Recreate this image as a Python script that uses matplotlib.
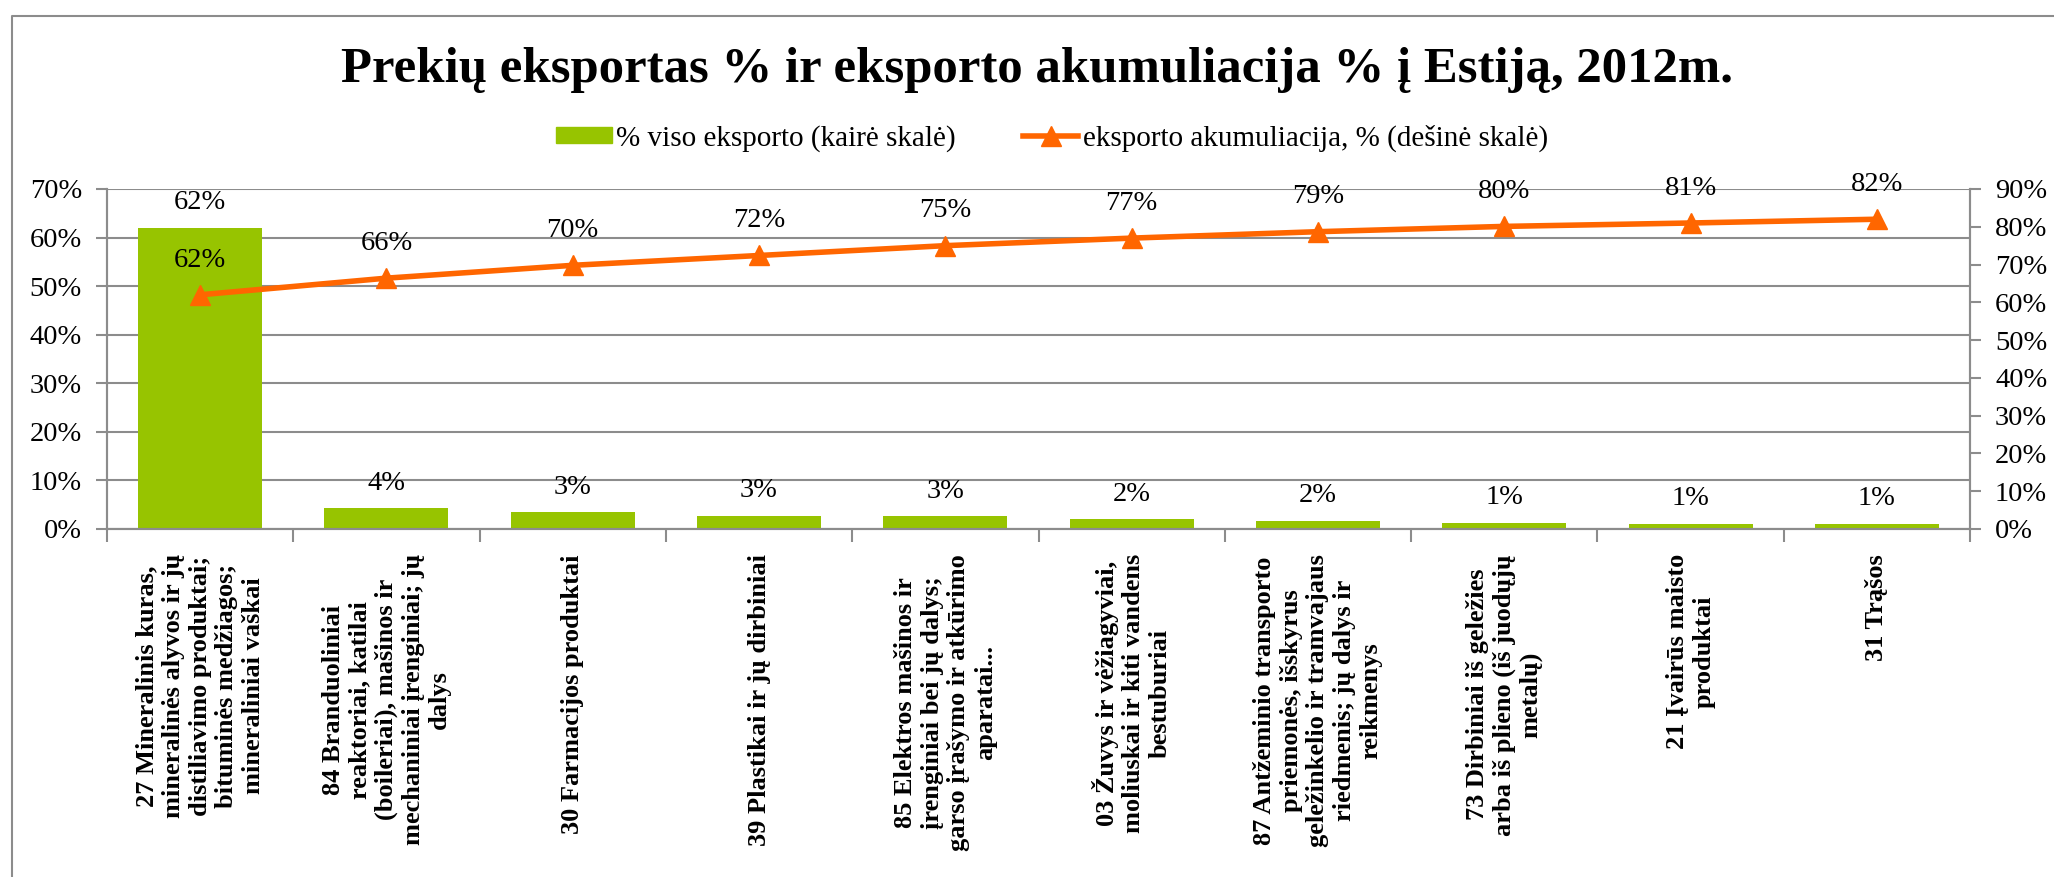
import numpy as np
import matplotlib.pyplot as plt
from matplotlib.lines import Line2D
from matplotlib.patches import Patch
from matplotlib.ticker import FuncFormatter, MultipleLocator

# data (percent)
categories = [
    "27 Mineralinis kuras,\nmineralinės alyvos ir jų\ndistiliavimo produktai;\nbituminės medžiagos;\nmineraliniai vaškai",
    "84 Branduoliniai\nreaktoriai, katilai\n(boileriai), mašinos ir\nmechaniniai įrenginiai; jų\ndalys",
    "30 Farmacijos produktai",
    "39 Plastikai ir jų dirbiniai",
    "85 Elektros mašinos ir\nįrenginiai bei jų dalys;\ngarso įrašymo ir atkūrimo\naparatai...",
    "03 Žuvys ir vėžiagyviai,\nmoliuskai ir kiti vandens\nbestuburiai",
    "87 Antžeminio transporto\npriemonės, išskyrus\ngeležinkelio ir tramvajaus\nriedmenis; jų dalys ir\nreikmenys",
    "73 Dirbiniai iš geležies\narba iš plieno (iš juodųjų\nmetalų)",
    "21 Įvairūs maisto\nproduktai",
    "31 Trąšos",
]
share = [62.0, 4.3, 3.4, 2.7, 2.6, 2.0, 1.7, 1.3, 1.1, 1.1]
cumulative = [62.0, 66.4, 69.8, 72.4, 75.0, 77.0, 78.7, 80.1, 81.0, 82.0]

title = "Prekių eksportas % ir eksporto akumuliacija % į Estiją, 2012m."
bar_name = "% viso eksporto (kairė skalė)"
line_name = "eksporto akumuliacija, % (dešinė skalė)"

GREEN = "#97C400"
ORANGE = "#FF6600"
GREY = "#8C8C8C"
FONT = "Liberation Serif"

W, H = 2054, 877
fig = plt.figure(figsize=(W / 100, H / 100), dpi=100)
ax = fig.add_axes([107 / W, 1 - 529 / H, (1970 - 107) / W, (529 - 189) / H])
ax2 = ax.twinx()

x = np.arange(len(categories))
ax.bar(x, share, width=0.666, color=GREEN, zorder=2)
ax2.plot(x, cumulative, color=ORANGE, lw=4, marker="^", ms=15, mec=ORANGE, zorder=3)

pct = FuncFormatter(lambda v, p: f"{v:.0f}%")

ax.set_xlim(-0.5, len(categories) - 0.5)
ax.set_ylim(0, 70)
ax.yaxis.set_major_locator(MultipleLocator(10))
ax.yaxis.set_major_formatter(pct)
ax2.set_ylim(0, 90)
ax2.yaxis.set_major_locator(MultipleLocator(10))
ax2.yaxis.set_major_formatter(pct)

ax.grid(axis="y", color=GREY, lw=1.5, zorder=0)
ax.set_axisbelow(True)

ax.set_xticks(x)
ax.set_xticklabels(categories, rotation=90, fontsize=19, fontweight="bold",
                   family=FONT, multialignment="center", va="top")
ax.set_xticks(np.arange(len(categories) + 1) - 0.5, minor=True)
ax.tick_params(axis="x", which="major", length=0, pad=18)
ax.tick_params(axis="x", which="minor", length=9, width=1.5, color=GREY, direction="out")
ax.tick_params(axis="y", length=8, width=1.5, color=GREY, pad=10, labelsize=20.5)
ax2.tick_params(axis="y", length=8, width=1.5, color=GREY, pad=10, labelsize=20.5)
for lab in ax.get_yticklabels() + ax2.get_yticklabels():
    lab.set_family(FONT)

for a in (ax, ax2):
    for s in a.spines.values():
        s.set_color(GREY)
        s.set_linewidth(1.5)
    a.spines["top"].set_visible(False)

for xi, v in zip(x, share):
    ax.annotate(f"{v:.0f}%", (xi, v), xytext=(0, 18), textcoords="offset points",
                ha="center", va="center", fontsize=20.5, family=FONT)
for xi, v in zip(x, cumulative):
    ax2.annotate(f"{v:.0f}%", (xi, v), xytext=(0, 25), textcoords="offset points",
                 ha="center", va="center", fontsize=20.5, family=FONT)

fig.text(1037 / W, 1 - 82 / H, title, ha="center", va="baseline",
         fontsize=36.5, fontweight="bold", family=FONT)

handles = [Patch(color=GREEN, label=bar_name),
           Line2D([], [], color=ORANGE, lw=4, marker="^", ms=15, label=line_name)]
fig.legend(handles=handles, loc="center", bbox_to_anchor=(1052 / W, 1 - 138 / H),
           ncol=2, frameon=False, prop={"family": FONT, "size": 21},
           handlelength=1.9, handleheight=0.5, handletextpad=0.15,
           columnspacing=2.3, borderpad=0, borderaxespad=0)

# chart-area border (only left and top edges are inside the picture)
fig.add_artist(Line2D([12 / W, 12 / W, 1], [0, 1 - 16 / H, 1 - 16 / H],
                      color=GREY, lw=1.5, transform=fig.transFigure))

fig.savefig("out.png", dpi=100)
